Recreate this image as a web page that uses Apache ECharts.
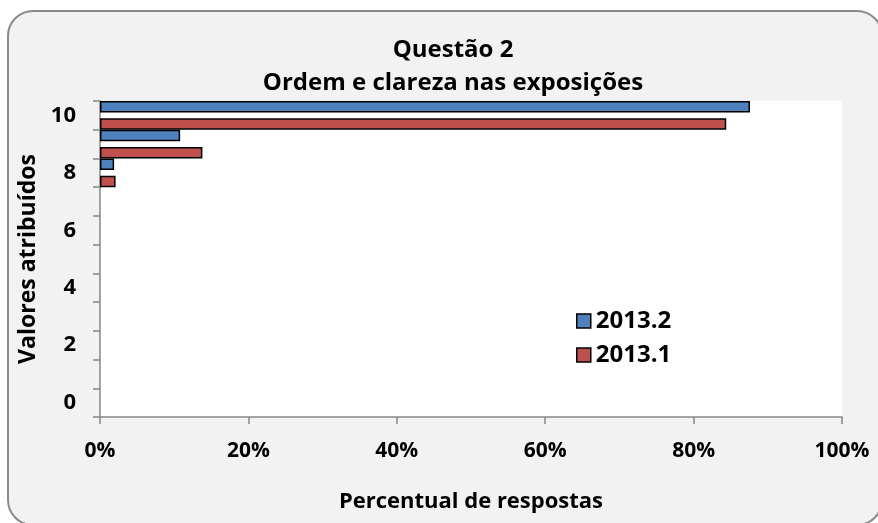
<!DOCTYPE html>
<html>
<head>
<meta charset="utf-8">
<script src="https://cdn.jsdelivr.net/npm/echarts@6/dist/echarts.min.js"></script>
<style>
  html, body { margin: 0; padding: 0; background: #fff; }
  #chart { width: 878px; height: 523px; }
</style>
</head>
<body>
<div id="chart"></div>
<script>
// Valores atribuídos (0..10)
const categories = ['0', '1', '2', '3', '4', '5', '6', '7', '8', '9', '10']
// percentual de respostas
const values20132 = [0, 0, 0, 0, 0, 0, 0, 0, 1.9, 10.8, 87.6]
const values20131 = [0, 0, 0, 0, 0, 0, 0, 0, 2.1, 13.8, 84.4]
const xTicks = [0, 20, 40, 60, 80, 100]

const font = '"Open Sans", "DejaVu Sans", sans-serif'
const axisGray = '#868686'

// zero bars are not drawn in the original
const skipZero = arr => arr.map(v => (v === 0 ? '-' : v))

const chart = echarts.init(document.getElementById('chart'))

const option = {
  backgroundColor: '#ffffff',
  animation: false,
  graphic: [
    {
      type: 'rect',
      z: -10,
      shape: { x: 8, y: 11, width: 874, height: 514, r: 25 },
      style: { fill: '#f2f2f2', stroke: '#8a8a8a', lineWidth: 2 }
    }
  ],
  title: [
    {
      text: 'Questão 2',
      left: 448,
      top: 33,
      textAlign: 'center',
      textStyle: { fontFamily: font, fontWeight: 'bold', fontSize: 24, color: '#000' }
    },
    {
      text: 'Ordem e clareza nas exposições',
      left: 448,
      top: 66,
      textAlign: 'center',
      textStyle: { fontFamily: font, fontWeight: 'bold', fontSize: 24, color: '#000' }
    }
  ],
  legend: {
    orient: 'vertical',
    left: 571,
    top: 304,
    itemWidth: 14,
    itemHeight: 14,
    itemGap: 10,
    icon: 'rect',
    data: ['2013.2', '2013.1'],
    textStyle: { fontFamily: font, fontWeight: 'bold', fontSize: 24, lineHeight: 24, color: '#000' },
    itemStyle: { borderColor: '#000', borderWidth: 1.5 }
  },
  grid: {
    left: 100,
    right: 36,
    top: 101,
    bottom: 106,
    show: true,
    backgroundColor: '#ffffff',
    borderWidth: 0
  },
  xAxis: {
    type: 'value',
    min: xTicks[0],
    max: xTicks[xTicks.length - 1],
    interval: 20,
    name: 'Percentual de respostas',
    nameLocation: 'middle',
    nameGap: 74,
    nameTextStyle: { fontFamily: font, fontWeight: 'bold', fontSize: 22, color: '#000' },
    axisLine: { show: true, lineStyle: { color: axisGray, width: 1.5 } },
    axisTick: { show: true, length: 7, lineStyle: { color: axisGray, width: 1.5 } },
    splitLine: { show: false },
    axisLabel: {
      formatter: '{value}%',
      margin: 24,
      fontFamily: font,
      fontWeight: 'bold',
      fontSize: 21,
      color: '#000'
    }
  },
  yAxis: {
    type: 'category',
    data: categories,
    name: 'Valores atribuídos',
    nameLocation: 'middle',
    nameGap: 60,
    nameTextStyle: { fontFamily: font, fontWeight: 'bold', fontSize: 23, color: '#000' },
    axisLine: { show: true, lineStyle: { color: axisGray, width: 1.5 } },
    axisTick: { show: true, length: 7, interval: 0, lineStyle: { color: axisGray, width: 1.5 } },
    axisLabel: {
      interval: 1,
      margin: 24,
      fontFamily: font,
      fontWeight: 'bold',
      fontSize: 22,
      color: '#000'
    }
  },
  series: [
    {
      name: '2013.2',
      type: 'bar',
      data: skipZero(values20132),
      barCategoryGap: '0%',
      barGap: '50%',
      itemStyle: { color: '#4f81bd', borderColor: '#000', borderWidth: 1.5 }
    },
    {
      name: '2013.1',
      type: 'bar',
      data: skipZero(values20131),
      barCategoryGap: '0%',
      barGap: '50%',
      itemStyle: { color: '#c0504d', borderColor: '#000', borderWidth: 1.5 }
    }
  ]
}

chart.setOption(option)
</script>
</body>
</html>
